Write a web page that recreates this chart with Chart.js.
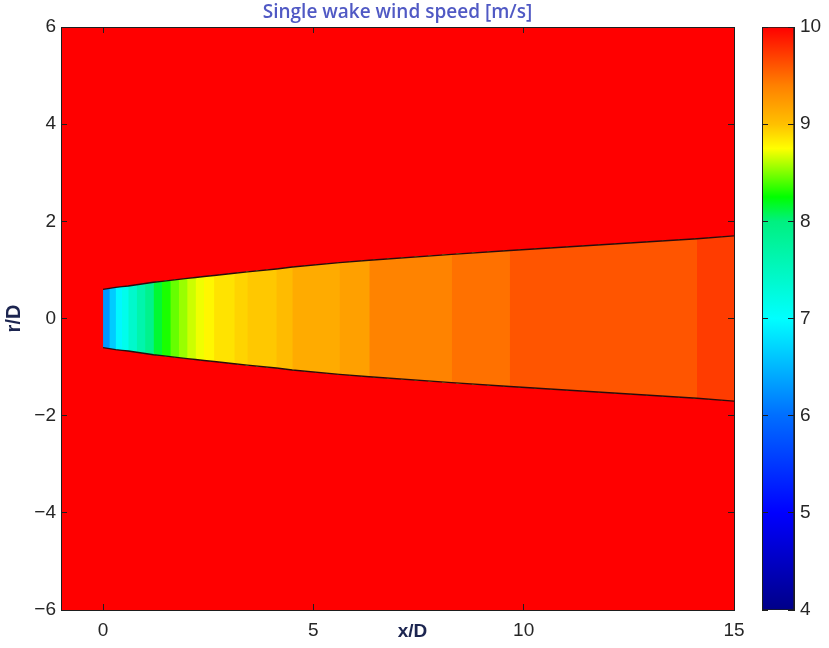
<!DOCTYPE html>
<html>
<head>
<meta charset="utf-8">
<script src="https://cdn.jsdelivr.net/npm/chart.js@4/dist/chart.umd.min.js"></script>
<style>
  body { margin: 0; background: #fff; }
  #wrap { position: relative; width: 829px; height: 648px; }
  #main { position: absolute; left: 0; top: 0; }
  #cbar { position: absolute; left: 735px; top: 0; }
</style>
</head>
<body>
<div id="wrap">
  <canvas id="main" width="829" height="648"></canvas>
  <canvas id="cbar" width="94" height="648"></canvas>
</div>
<script>
// --- Donnees ---
// bords des bandes de vitesse (x/D)
const bandEdges = [0, 0.15, 0.3, 0.45, 0.6, 0.8, 1.0, 1.2, 1.4, 1.6, 1.8, 2.0, 2.2, 2.4,
                   2.64, 3.12, 3.43, 4.12, 4.5, 5.62, 6.33, 8.29, 9.67, 14.12, 15];
// rayon du sillage a chaque bord (r/D)
const wakeRadius = [0.60, 0.62, 0.64, 0.655, 0.67, 0.695, 0.72, 0.745, 0.765, 0.785, 0.805, 0.825, 0.845, 0.865,
                    0.885, 0.93, 0.96, 1.02, 1.06, 1.15, 1.20, 1.32, 1.40, 1.64, 1.70];
// vitesse dans chaque bande (m/s)
const bandSpeed = [6.3, 6.65, 6.95, 7.15, 7.4, 7.65, 7.9, 8.15, 8.3, 8.45, 8.55, 8.65, 8.72, 8.78,
                   8.86, 8.92, 8.97, 9.03, 9.13, 9.2, 9.38, 9.47, 9.6, 9.72];
const freeStreamSpeed = 10;

// axes
const xRange = [-1, 15];
const yRange = [-6, 6];
const xTicks = [0, 5, 10, 15];
const yTicks = [-6, -4, -2, 0, 2, 4, 6];
const colorTicks = [4, 5, 6, 7, 8, 9, 10];

// colormap (type jet)
const cmapValues = [4, 5, 6, 7, 8, 8.25, 8.75, 9, 9.4, 10];
const cmapColors = ['#000088', '#0000ff', '#006eff', '#00ffff', '#00f080', '#00ff00', '#ffff00', '#ffc000', '#ff8000', '#ff0000'];

// --- Styles ---
const tickColor = '#262626';
const lineColor = '#1e1e1e';
const labelColor = '#1c2550';
const tickFont = { family: '"Liberation Sans", Arial, sans-serif', size: 19 };

function hexToRgb(h) {
  return [parseInt(h.slice(1, 3), 16), parseInt(h.slice(3, 5), 16), parseInt(h.slice(5, 7), 16)];
}

function speedColor(v) {
  if (v <= cmapValues[0]) return cmapColors[0];
  for (let i = 1; i < cmapValues.length; i++) {
    if (v <= cmapValues[i]) {
      const t = (v - cmapValues[i - 1]) / (cmapValues[i] - cmapValues[i - 1]);
      const a = hexToRgb(cmapColors[i - 1]), b = hexToRgb(cmapColors[i]);
      const c = a.map((ai, k) => Math.round(ai + (b[k] - ai) * t));
      return `rgb(${c[0]},${c[1]},${c[2]})`;
    }
  }
  return cmapColors[cmapColors.length - 1];
}

function minusLabel(v) {
  return v < 0 ? '\u2212' + Math.abs(v) : String(v);
}

// ticks vers l'interieur, style matlab
function axisStyle(opts) {
  return Object.assign({
    type: 'linear',
    grid: { drawOnChartArea: false, drawTicks: true, tickLength: -6, color: lineColor, lineWidth: 1, z: 1 },
    border: { display: true, color: lineColor, width: 1, z: 1 },
  }, opts);
}

// --- Graphique principal ---
const datasets = [];

// fond : vitesse libre
datasets.push({
  data: [{ x: xRange[0], y: yRange[1] }, { x: xRange[1], y: yRange[1] }],
  fill: { value: yRange[0] },
  backgroundColor: speedColor(freeStreamSpeed),
  borderWidth: 0,
  order: 1000
});

// bandes du sillage
bandSpeed.forEach((s, i) => {
  const upper = [], lower = [];
  for (let k = i; k < bandEdges.length; k++) {
    upper.push({ x: bandEdges[k], y: wakeRadius[k] });
    lower.push({ x: bandEdges[k], y: -wakeRadius[k] });
  }
  datasets.push({ data: upper, fill: '+1', backgroundColor: speedColor(s), borderWidth: 0, order: 500 - i });
  datasets.push({ data: lower, fill: false, borderWidth: 0, order: 500 - i });
});

// limites du sillage
datasets.push({
  data: bandEdges.map((x, k) => ({ x, y: wakeRadius[k] })),
  fill: false, borderColor: '#2a0c0c', borderWidth: 1.4, order: -1
});
datasets.push({
  data: bandEdges.map((x, k) => ({ x, y: -wakeRadius[k] })),
  fill: false, borderColor: '#2a0c0c', borderWidth: 1.4, order: -1
});

const xLabelPlugin = {
  id: 'xLabel',
  afterDraw(chart) {
    const { ctx, scales: { x } } = chart;
    ctx.save();
    ctx.font = 'bold 19px "Liberation Sans", Arial, sans-serif';
    ctx.fillStyle = labelColor;
    ctx.textAlign = 'center';
    ctx.textBaseline = 'middle';
    ctx.fillText('x/D', (x.getPixelForValue(5) + x.getPixelForValue(10)) / 2 - 6, x.top + 22);
    ctx.restore();
  }
};

new Chart(document.getElementById('main'), {
  type: 'line',
  data: { datasets },
  plugins: [xLabelPlugin],
  options: {
    responsive: false,
    animation: false,
    events: [],
    layout: { padding: { left: 0, right: 95, top: 0, bottom: 0 } },
    elements: { point: { radius: 0 }, line: { tension: 0 } },
    plugins: {
      legend: { display: false },
      tooltip: { enabled: false },
      title: {
        display: true,
        text: 'Single wake wind speed [m/s]',
        fullSize: false,
        color: '#5059c4',
        font: { family: '"Open Sans", sans-serif', size: 19, weight: '600' },
        padding: { top: 1, bottom: 3.2 }
      }
    },
    scales: {
      x: axisStyle({
        position: 'bottom', min: xRange[0], max: xRange[1],
        afterBuildTicks: s => { s.ticks = xTicks.map(v => ({ value: v })); },
        afterFit: s => { s.height = 38; },
        ticks: { color: tickColor, font: tickFont, padding: 15, maxRotation: 0, callback: minusLabel }
      }),
      x2: axisStyle({
        position: 'top', min: xRange[0], max: xRange[1],
        afterBuildTicks: s => { s.ticks = xTicks.map(v => ({ value: v })); },
        afterFit: s => { s.height = 0; },
        ticks: { display: false }
      }),
      y: axisStyle({
        position: 'left', min: yRange[0], max: yRange[1],
        afterBuildTicks: s => { s.ticks = yTicks.map(v => ({ value: v })); },
        afterFit: s => { s.width = 61; },
        ticks: { color: tickColor, font: tickFont, padding: 11, callback: minusLabel },
        title: {
          display: true, text: 'r/D', color: labelColor,
          font: { family: '"Liberation Sans", Arial, sans-serif', size: 20, weight: 'bold' },
          padding: { top: 2, bottom: 0 }
        }
      }),
      y2: axisStyle({
        position: 'right', min: yRange[0], max: yRange[1],
        afterBuildTicks: s => { s.ticks = yTicks.map(v => ({ value: v })); },
        afterFit: s => { s.width = 0; },
        ticks: { display: false }
      })
    }
  }
});

// --- Barre de couleurs ---
function barGradient(chart) {
  const { ctx, chartArea, scales } = chart;
  if (!chartArea) return null;
  const y = scales.y;
  const lo = cmapValues[0], hi = cmapValues[cmapValues.length - 1];
  const g = ctx.createLinearGradient(0, y.getPixelForValue(lo), 0, y.getPixelForValue(hi));
  cmapValues.forEach((v, i) => g.addColorStop((v - lo) / (hi - lo), cmapColors[i]));
  return g;
}

new Chart(document.getElementById('cbar'), {
  type: 'bar',
  data: {
    labels: ['speed'],
    datasets: [{
      data: [[colorTicks[0], colorTicks[colorTicks.length - 1]]],
      backgroundColor: c => barGradient(c.chart),
      borderColor: lineColor,
      borderWidth: 1,
      borderSkipped: false,
      barPercentage: 1,
      categoryPercentage: 1
    }]
  },
  options: {
    responsive: false,
    animation: false,
    events: [],
    layout: { padding: { left: 27, right: 0, top: 27, bottom: 38 } },
    plugins: { legend: { display: false }, tooltip: { enabled: false } },
    scales: {
      x: { display: false },
      y: axisStyle({
        position: 'left', min: colorTicks[0], max: colorTicks[colorTicks.length - 1],
        afterBuildTicks: s => { s.ticks = colorTicks.map(v => ({ value: v })); },
        afterFit: s => { s.width = 0; },
        ticks: { display: false }
      }),
      y2: axisStyle({
        position: 'right', min: colorTicks[0], max: colorTicks[colorTicks.length - 1],
        afterBuildTicks: s => { s.ticks = colorTicks.map(v => ({ value: v })); },
        afterFit: s => { s.width = 35; },
        ticks: { color: tickColor, font: tickFont, padding: 12 }
      })
    }
  }
});
</script>
</body>
</html>
